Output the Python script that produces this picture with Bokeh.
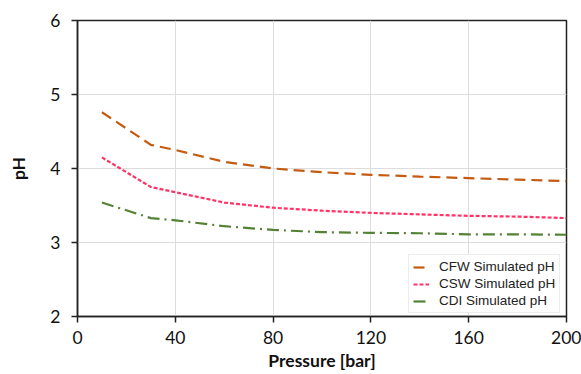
from bokeh.plotting import figure
from bokeh.models import FixedTicker, Range1d, Legend, LegendItem
from bokeh.embed import file_html
from bokeh.resources import INLINE

pressure = [10, 30, 40, 60, 80, 100, 120, 140, 160, 180, 200]
cfw_ph = [4.76, 4.32, 4.25, 4.09, 4.00, 3.95, 3.915, 3.89, 3.87, 3.85, 3.83]
csw_ph = [4.15, 3.75, 3.68, 3.54, 3.47, 3.43, 3.40, 3.38, 3.36, 3.35, 3.33]
cdi_ph = [3.54, 3.33, 3.30, 3.22, 3.17, 3.14, 3.13, 3.125, 3.11, 3.11, 3.105]
x_ticks = [0, 40, 80, 120, 160, 200]
y_ticks = [2, 3, 4, 5, 6]
series_names = ["CFW Simulated pH", "CSW Simulated pH", "CDI Simulated pH"]
x_title = "Pressure [bar]"
y_title = "pH"

p = figure(width=581, height=374, output_backend="svg", toolbar_location=None,
           x_range=Range1d(0, 200), y_range=Range1d(2, 6))
p.min_border_left = 77
p.min_border_right = 15
p.min_border_top = 20
p.min_border_bottom = 58
p.background_fill_color = "white"
p.border_fill_color = "white"
p.outline_line_color = "#222222"
p.outline_line_width = 1.5

for ax in (p.xaxis[0], p.yaxis[0]):
    ax.axis_line_color = "#222222"
    ax.axis_line_width = 1.5
    ax.major_tick_line_color = "#222222"
    ax.major_tick_line_width = 1.5
    ax.major_tick_out = 6
    ax.major_tick_in = 0
    ax.minor_tick_line_color = None
    ax.major_label_text_font = "Lato"
    ax.major_label_text_font_size = "17.5px"
    ax.major_label_text_color = "#111111"
    ax.axis_label_text_font = "Lato"
    ax.axis_label_text_font_style = "bold"
    ax.axis_label_text_font_size = "17.5px"
    ax.axis_label_text_color = "#111111"

p.xaxis.ticker = FixedTicker(ticks=x_ticks)
p.yaxis.ticker = FixedTicker(ticks=y_ticks)
p.xaxis.axis_label = x_title
p.yaxis.axis_label = y_title
p.xaxis.major_label_standoff = 8
p.yaxis.major_label_standoff = 11
p.xaxis.axis_label_standoff = 3
p.yaxis.axis_label_standoff = 18

p.xgrid.ticker = FixedTicker(ticks=x_ticks)
p.ygrid.ticker = FixedTicker(ticks=y_ticks)
p.xgrid.grid_line_color = "#DDDDDD"
p.ygrid.grid_line_color = "#DDDDDD"
p.xgrid.grid_line_width = 1
p.ygrid.grid_line_width = 1

r1 = p.line(pressure, cfw_ph, line_color="#C55A11", line_width=2.2, line_dash="11 6")
r2 = p.line(pressure, csw_ph, line_color="#FF3366", line_width=2.2, line_dash="4 2")
r3 = p.line(pressure, cdi_ph, line_color="#548235", line_width=2.2, line_dash="12 5 2 5")

legend = Legend(items=[LegendItem(label=series_names[0], renderers=[r1]),
                       LegendItem(label=series_names[1], renderers=[r2]),
                       LegendItem(label=series_names[2], renderers=[r3])],
                location=(331, 3))
legend.label_text_font = "Liberation Sans"
legend.label_text_font_size = "13.5px"
legend.label_text_color = "#222222"
legend.glyph_width = 16
legend.glyph_height = 12
legend.label_standoff = 10
legend.label_height = 12
legend.spacing = 2
legend.padding = 4
legend.margin = 0
legend.border_line_color = "#D9D9D9"
legend.border_line_width = 1
legend.background_fill_color = "white"
legend.background_fill_alpha = 1
p.add_layout(legend, "center")

open("out.html", "w").write(file_html(p, INLINE))
